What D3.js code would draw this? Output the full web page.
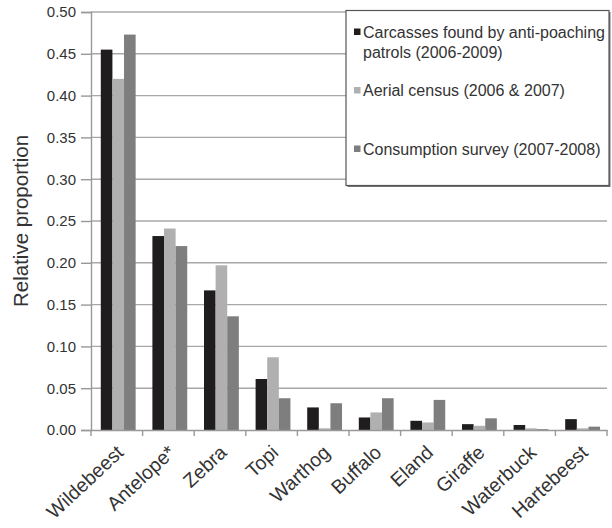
<!DOCTYPE html>
<html><head><meta charset="utf-8">
<script src="https://cdn.jsdelivr.net/npm/d3@7"></script>
<style>body{margin:0;background:#fff}svg{display:block}text{font-family:"Liberation Sans",Arial,sans-serif}</style>
</head><body>
<svg id="c" width="612" height="528"></svg>
<script>
const categories = ["Wildebeest","Antelope*","Zebra","Topi","Warthog","Buffalo","Eland","Giraffe","Waterbuck","Hartebeest"];
const carcasses  = [0.455,0.232,0.167,0.061,0.027,0.015,0.011,0.007,0.006,0.013];
const aerial     = [0.420,0.241,0.197,0.087,0.002,0.021,0.009,0.005,0.002,0.002];
const consumption= [0.473,0.220,0.136,0.038,0.032,0.038,0.036,0.014,0.001,0.004];
const seriesNames = ["Carcasses found by anti-poaching|patrols (2006-2009)","Aerial census (2006 & 2007)","Consumption survey (2007-2008)"];
const yTicks = [0,0.05,0.10,0.15,0.20,0.25,0.30,0.35,0.40,0.45,0.50];

const series = [carcasses, aerial, consumption];
const colors = ["#201d1e","#b0b0b0","#7e7e7e"];
const svg = d3.select("#c");
const L=91, R=607, T=12, B=430;
const x = d3.scaleBand().domain(categories).range([L,R]).padding(0);
const y = d3.scaleLinear().domain([0,0.5]).range([B,T]);
const bw = x.bandwidth();

// gridlines
svg.append("g").selectAll("line").data(yTicks.slice(1)).join("line")
  .attr("x1",L).attr("x2",R).attr("y1",d=>y(d)).attr("y2",d=>y(d))
  .attr("stroke","#a8a8a8").attr("stroke-width",1.4);

// bars
series.forEach((s,i)=>{
  svg.append("g").selectAll("rect").data(s).join("rect")
    .attr("x",(d,j)=>x(categories[j]) + bw*0.19 + i*bw*0.225)
    .attr("width",bw*0.225)
    .attr("y",d=>y(d)).attr("height",d=>B-y(d))
    .attr("fill",colors[i]);
});

// y axis
const ya = svg.append("g").attr("transform",`translate(${L},0)`)
  .call(d3.axisLeft(y).tickValues(yTicks).tickFormat(d3.format(".2f")).tickSize(10).tickPadding(5));
ya.select(".domain").attr("stroke","#999").attr("stroke-width",1.4);
ya.selectAll(".tick line").attr("stroke","#999").attr("stroke-width",1.4);
ya.selectAll("text").attr("font-size",15).attr("fill","#333").attr("font-family","Liberation Sans, Arial, sans-serif");

// x axis
const xa = svg.append("g").attr("transform",`translate(0,${B})`)
  .call(d3.axisBottom(x).tickSize(0).tickPadding(0));
xa.select(".domain").attr("stroke","#999").attr("stroke-width",1.4);
xa.selectAll(".tick text").remove();
// boundary ticks
svg.append("g").selectAll("line").data(categories.concat(["_end"])).join("line")
  .attr("x1",(d,i)=>L+i*bw).attr("x2",(d,i)=>L+i*bw)
  .attr("y1",B).attr("y2",B+6).attr("stroke","#999").attr("stroke-width",1.4);
svg.append("g").selectAll("text").data(categories).join("text")
  .attr("transform",d=>`translate(${x(d)+bw/2+8},${B+24}) rotate(-43)`)
  .attr("text-anchor","end").attr("font-size",19.5).attr("fill","#333").text(d=>d);

// y label
svg.append("text").attr("transform","translate(28,221) rotate(-90)")
  .attr("text-anchor","middle").attr("font-size",20.5).attr("fill","#333").text("Relative proportion");

// legend
const lg = svg.append("g");
lg.append("rect").attr("x",347.5).attr("y",12).attr("width",263).attr("height",175).attr("fill","#777");
lg.append("rect").attr("x",346).attr("y",10.5).attr("width",263).attr("height",175)
  .attr("fill","#fff").attr("stroke","#555").attr("stroke-width",1.2);
const ly = [37.5,96,154.5];
seriesNames.forEach((n,i)=>{
  lg.append("rect").attr("x",354).attr("y",ly[i]-9).attr("width",6.5).attr("height",6.5).attr("fill",colors[i]);
  n.split("|").forEach((t,k)=>{
    lg.append("text").attr("x",363).attr("y",ly[i]+k*20).attr("font-size",16).attr("fill","#333").text(t);
  });
});
</script>
</body></html>
